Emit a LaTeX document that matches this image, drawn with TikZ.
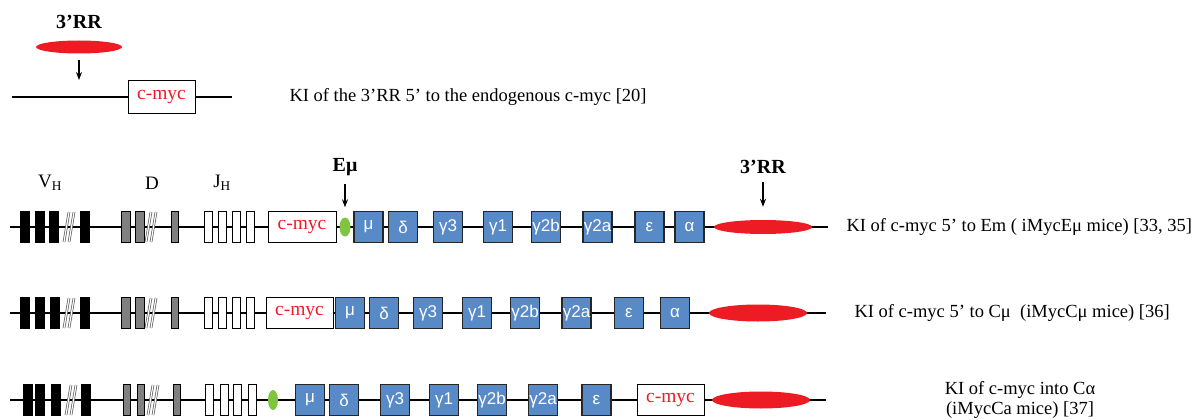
\documentclass[tikz,border=0pt]{standalone}
\usepackage{fontspec}
\setmainfont{Liberation Serif}
\newfontfamily\genefont{Liberation Sans}
\usetikzlibrary{shapes.geometric, arrows.meta}

\definecolor{cblue}{RGB}{88,138,200}
\definecolor{rrred}{RGB}{237,28,36}
\definecolor{emgreen}{RGB}{128,196,64}
\definecolor{dgray}{RGB}{128,128,128}

\begin{document}
\begin{tikzpicture}[
  x=1pt, y=-1pt,
  dna/.style={line width=1.2pt},
  vseg/.style={
    draw, fill=black, minimum width=9pt, minimum height=31pt, inner sep=0pt
  },
  dseg/.style={
    draw, fill=dgray, line width=1pt, minimum width=8pt, minimum height=31pt, inner sep=0pt
  },
  jseg/.style={
    draw, fill=white, line width=1pt, minimum width=8pt, minimum height=31pt, inner sep=0pt
  },
  cbox/.style={
    draw=black!85, fill=cblue, line width=1.3pt, minimum width=29pt,
    minimum height=31pt, inner sep=0pt, text=white,
    font=\genefont\fontsize{17}{17}\selectfont
  },
  mycbox/.style={
    draw, fill=white, line width=1pt, minimum width=67pt, minimum height=31pt,
    inner sep=0pt, text=rrred, font=\rmfamily\fontsize{19.5}{19.5}\selectfont
  },
  rrell/.style={
    ellipse, fill=rrred, minimum width=98pt, minimum height=15pt, inner sep=0pt
  },
  emuell/.style={
    ellipse, fill=emgreen, minimum width=11pt, minimum height=19pt, inner sep=0pt
  },
  brk/.style={draw=black!65, double=white, double distance=1.2pt, line width=0.7pt},
  seglab/.style={font=\fontsize{19}{19}\selectfont},
  toplab/.style={font=\bfseries\fontsize{20}{20}\selectfont, inner sep=0pt},
  kilab/.style={font=\fontsize{18.5}{20}\selectfont, align=center},
  arr/.style={->, >={Stealth[length=8pt, width=6pt]}, line width=1.3pt}
]
\useasboundingbox (0,0) rectangle (1197,420);

% Top: 3'RR knocked in upstream of endogenous c-myc
\coordinate (t-start) at (12,97);
\coordinate (t-end) at (232,97);
\draw[dna] (t-start) -- (t-end);
\node[toplab] (t-rrlab) at (79,22) {3’RR};
\node[rrell, minimum width=86pt, minimum height=13pt] (t-rr) at (79,47) {};
\coordinate (t-tip) at (79,80);
\draw[arr, shorten <=6pt] (t-rr.south) -- (t-tip);
\node[mycbox, minimum height=32pt] (t-myc) at (161.5,97) {c-myc};
\node[kilab, anchor=west] (t-ki) at (286,97) {KI of the 3’RR 5’ to the endogenous c-myc [20]};

% Row a: c-myc 5' to Emu
\coordinate (a-start) at (10,227);
\coordinate (a-end) at (828,227);
\draw[dna] (a-start) -- (a-end);
\node[seglab] (a-vlab) at (50,183) {V\textsubscript{H}};
\node[seglab] (a-dlab) at (152,183) {D};
\node[seglab] (a-jlab) at (222,183) {J\textsubscript{H}};
\node[vseg] (a-v1) at (24.5,227) {};
\node[vseg] (a-v2) at (39.5,227) {};
\node[vseg] (a-v3) at (54,227) {};
\node[vseg] (a-v4) at (85,227) {};
\draw[brk] (64,242) -- (69,212);
\draw[brk] (69,242) -- (74,212);
\node[dseg, minimum width=9pt] (a-d1) at (126,227) {};
\node[dseg, minimum width=9pt] (a-d2) at (139.5,227) {};
\node[dseg, minimum width=7pt] (a-d3) at (174.5,227) {};
\draw[brk] (146,242) -- (151,212);
\draw[brk] (151,242) -- (156,212);
\node[jseg] (a-j1) at (208,227) {};
\node[jseg] (a-j2) at (222.5,227) {};
\node[jseg] (a-j3) at (236,227) {};
\node[jseg] (a-j4) at (250.5,227) {};
\node[mycbox, minimum width=68pt] (a-myc) at (302,227) {c-myc};
\node[emuell] (a-emu) at (345,227) {};
\node[toplab] (a-emulab) at (345,167) {Eμ};
\draw[arr, shorten <=8pt, shorten >=10pt] (a-emulab.south) -- (a-emu.north);
\node[cbox] (a-mu) at (368.5,227) {μ};
\node[cbox] (a-delta) at (403,227) {δ};
\node[cbox] (a-g3) at (448,227) {γ3};
\node[cbox] (a-g1) at (498,227) {γ1};
\node[cbox] (a-g2b) at (546,227) {γ2b};
\node[cbox] (a-g2a) at (597.5,227) {γ2a};
\node[cbox] (a-eps) at (649.5,227) {ε};
\node[cbox] (a-alpha) at (689.5,227) {α};
\node[rrell, minimum height=14pt] (a-rr) at (763,227) {};
\node[toplab] (a-rrlab) at (763,167) {3’RR};
\draw[arr, shorten <=8pt, shorten >=13pt] (a-rrlab.south) -- (a-rr.north);
\node[kilab, anchor=west] (a-ki) at (843,227) {KI of c-myc 5’ to Em ( iMycEμ mice) [33, 35]};

% Row b: c-myc 5' to Cmu
\coordinate (b-start) at (10,313);
\coordinate (b-end) at (826,313);
\draw[dna] (b-start) -- (b-end);
\node[vseg] (b-v1) at (25,313) {};
\node[vseg] (b-v2) at (39.5,313) {};
\node[vseg] (b-v3) at (54.5,313) {};
\node[vseg] (b-v4) at (85,313) {};
\draw[brk] (64,328) -- (69,298);
\draw[brk] (69,328) -- (74,298);
\node[dseg, minimum width=9pt] (b-d1) at (125.5,313) {};
\node[dseg, minimum width=9pt] (b-d2) at (139.5,313) {};
\node[dseg, minimum width=7pt] (b-d3) at (174.5,313) {};
\draw[brk] (146,328) -- (151,298);
\draw[brk] (151,328) -- (156,298);
\node[jseg] (b-j1) at (208,313) {};
\node[jseg] (b-j2) at (222.5,313) {};
\node[jseg] (b-j3) at (236.5,313) {};
\node[jseg] (b-j4) at (250.5,313) {};
\node[mycbox] (b-myc) at (299.5,313) {c-myc};
\node[cbox] (b-mu) at (350,313) {μ};
\node[cbox] (b-delta) at (384,313) {δ};
\node[cbox] (b-g3) at (428,313) {γ3};
\node[cbox] (b-g1) at (477,313) {γ1};
\node[cbox] (b-g2b) at (525,313) {γ2b};
\node[cbox] (b-g2a) at (576.5,313) {γ2a};
\node[cbox] (b-eps) at (629,313) {ε};
\node[cbox] (b-alpha) at (675,313) {α};
\node[rrell, minimum height=17pt] (b-rr) at (758,313) {};
\node[kilab, anchor=west] (b-ki) at (851,313) {KI of c-myc 5’ to Cμ \ (iMycCμ mice) [36]};

% Row c: c-myc into Calpha
\coordinate (c-start) at (10,400);
\coordinate (c-end) at (826,400);
\draw[dna] (c-start) -- (c-end);
\node[vseg] (c-v1) at (27.5,400) {};
\node[vseg] (c-v2) at (40,400) {};
\node[vseg] (c-v3) at (56,400) {};
\node[vseg] (c-v4) at (86,400) {};
\draw[brk] (66,415) -- (71,385);
\draw[brk] (71,415) -- (76,385);
\node[dseg, minimum width=7pt] (c-d1) at (126.5,400) {};
\node[dseg, minimum width=7pt] (c-d2) at (140.5,400) {};
\node[dseg, minimum width=7pt] (c-d3) at (176.5,400) {};
\draw[brk] (148,415) -- (153,385);
\draw[brk] (153,415) -- (158,385);
\node[jseg] (c-j1) at (209.5,400) {};
\node[jseg] (c-j2) at (224,400) {};
\node[jseg] (c-j3) at (237.5,400) {};
\node[jseg] (c-j4) at (252,400) {};
\node[emuell, minimum width=10pt, minimum height=20pt] (c-emu) at (273,400) {};
\node[cbox] (c-mu) at (310,400) {μ};
\node[cbox] (c-delta) at (344,400) {δ};
\node[cbox] (c-g3) at (395,400) {γ3};
\node[cbox] (c-g1) at (444,400) {γ1};
\node[cbox] (c-g2b) at (492,400) {γ2b};
\node[cbox] (c-g2a) at (543,400) {γ2a};
\node[cbox] (c-eps) at (596.5,400) {ε};
\node[mycbox] (c-myc) at (670.5,400) {c-myc};
\node[rrell, minimum height=17pt] (c-rr) at (761,400) {};
\node[kilab] (c-ki) at (1020,400) {KI of c-myc into Cα\\(iMycCa mice) [37]};

\end{tikzpicture}
\end{document}
